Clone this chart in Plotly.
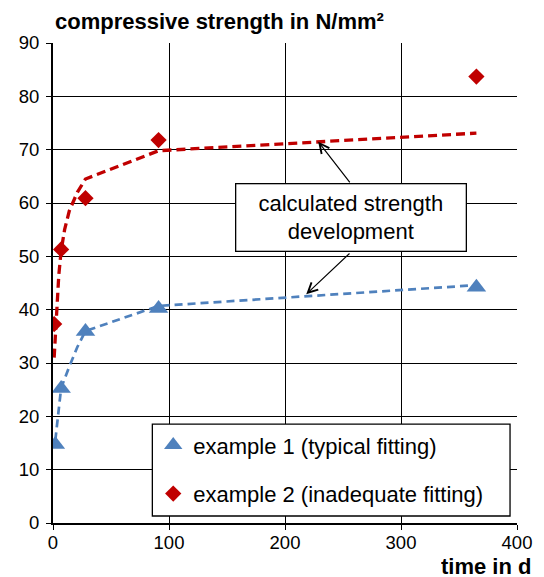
import plotly.graph_objects as go

# ---- data ----
t_ex1 = [2, 7, 28, 91, 365]
v_ex1 = [14.7, 25.2, 35.9, 40.2, 44.2]
t_ex2 = [1, 7, 28, 91, 365]
v_ex2 = [37.3, 51.3, 60.9, 71.8, 83.7]

fit1_t = [2, 3, 5, 7, 14, 21, 28, 91, 365]
fit1_v = [15.5, 17.5, 21.5, 25.3, 29.3, 33.0, 36.0, 40.7, 44.6]
fit2_t = [1, 2, 3, 4, 5, 7, 10, 14, 21, 28, 91, 365]
fit2_v = [31.0, 35.5, 39.5, 43.5, 46.5, 51.0, 55.0, 58.5, 62.0, 64.5, 69.8, 73.1]

x_ticks = [0, 100, 200, 300, 400]
y_ticks = [0, 10, 20, 30, 40, 50, 60, 70, 80, 90]

names = ["example 1 (typical fitting)", "example 2 (inadequate fitting)"]
blue = "#4F81BD"
red = "#C00000"
FONT = "Liberation Sans, Arial, sans-serif"

fig = go.Figure()
fig.add_trace(go.Scatter(x=fit1_t, y=fit1_v, mode="lines", showlegend=False,
                         line=dict(color=blue, width=2.7, dash="8px,5px"), hoverinfo="skip"))
fig.add_trace(go.Scatter(x=fit2_t, y=fit2_v, mode="lines", showlegend=False,
                         line=dict(color=red, width=3.3, dash="9px,5px"), hoverinfo="skip"))
fig.add_trace(go.Scatter(x=t_ex1, y=v_ex1, mode="markers", name=names[0], legendgroup="a",
                         marker=dict(symbol="triangle-up", size=17, color=blue)))
fig.add_trace(go.Scatter(x=t_ex2, y=v_ex2, mode="markers", name=names[1], legendgroup="b",
                         marker=dict(symbol="diamond", size=12.5, color=red)))

# legend frame
fig.add_shape(type="rect", xref="paper", yref="paper", x0=0.2141, x1=0.985, y0=0.0146, y1=0.206,
              line=dict(color="black", width=1.3), fillcolor="white", layer="above")

# text box with arrows
fig.add_annotation(x=257.3, y=57.2, xref="x", yref="y", showarrow=False,
                   text="calculated strength<br>development",
                   font=dict(family=FONT, size=22, color="black"),
                   bgcolor="white", bordercolor="black", borderwidth=1.3, borderpad=1,
                   width=227, height=64, align="center")
fig.add_annotation(x=228.6, y=71.5, ax=256.9, ay=63.6, xref="x", yref="y", axref="x", ayref="y",
                   text="", showarrow=True, arrowhead=5, arrowsize=1.6, arrowwidth=1.2,
                   arrowcolor="black", standoff=0, startstandoff=0)
fig.add_annotation(x=218.3, y=42.9, ax=256.9, ay=50.8, xref="x", yref="y", axref="x", ayref="y",
                   text="", showarrow=True, arrowhead=5, arrowsize=1.6, arrowwidth=1.2,
                   arrowcolor="black", standoff=0, startstandoff=0)

# axis titles
fig.add_annotation(x=0, y=1.0438, xref="paper", yref="paper", xanchor="left", yanchor="middle",
                   text="<b>compressive strength in N/mm²</b>", showarrow=False,
                   font=dict(family=FONT, size=22, color="black"))
fig.add_annotation(x=1.032, y=-0.0896, xref="paper", yref="paper", xanchor="right", yanchor="middle",
                   text="<b>time in d</b>", showarrow=False, height=20, borderpad=0,
                   font=dict(family=FONT, size=22, color="black"))

fig.update_xaxes(range=[0, 400], tickvals=x_ticks, showgrid=True, gridcolor="black", gridwidth=1.3,
                 showline=True, linecolor="black", linewidth=2, zeroline=False,
                 ticks="outside", ticklen=5, tickcolor="black", tickwidth=1.3,
                 ticklabelstandoff=-3,
                 tickfont=dict(family=FONT, size=18.5, color="black"))
fig.update_yaxes(range=[0, 90], tickvals=y_ticks, showgrid=True, gridcolor="black", gridwidth=1.3,
                 showline=True, linecolor="black", linewidth=2, zeroline=False,
                 ticks="outside", ticklen=5, tickcolor="black", tickwidth=1.3,
                 ticklabelstandoff=3,
                 tickfont=dict(family=FONT, size=18.5, color="black"))

fig.update_layout(
    width=544, height=577,
    margin=dict(l=53, r=24, t=43, b=54),
    paper_bgcolor="white", plot_bgcolor="white",
    font=dict(family=FONT, color="black"),
    showlegend=True,
    legend=dict(x=0.216, y=0.206, xanchor="left", yanchor="top",
                bgcolor="rgba(0,0,0,0)", borderwidth=0,
                font=dict(family=FONT, size=22, color="black"),
                traceorder="grouped", tracegroupgap=17),
)

fig.write_html("out.html", config={"displayModeBar": False})

# remove default page margin so the figure sits at the window's top-left corner
with open("out.html", "r", encoding="utf-8") as f:
    html = f.read()
html = html.replace("<head>", "<head><style>html,body{margin:0;padding:0;overflow:hidden;}</style>", 1)
with open("out.html", "w", encoding="utf-8") as f:
    f.write(html)
